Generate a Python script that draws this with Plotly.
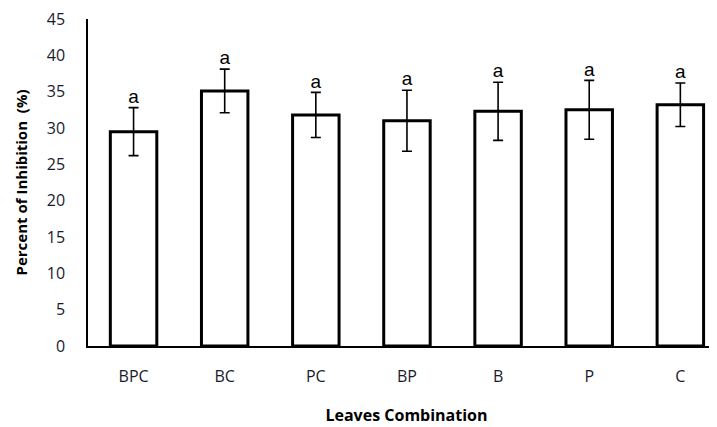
import plotly.graph_objects as go

categories = ["BPC", "BC", "PC", "BP", "B", "P", "C"]
values = [29.5, 35.1, 31.8, 31.0, 32.3, 32.5, 33.2]
errors = [3.3, 3.0, 3.1, 4.2, 4.0, 4.05, 3.0]
letters = ["a", "a", "a", "a", "a", "a", "a"]

font_family = "Open Sans, Liberation Sans, sans-serif"

fig = go.Figure()
fig.add_trace(go.Bar(
    x=categories, y=values,
    marker=dict(color="white", line=dict(color="black", width=3)),
    error_y=dict(type="data", array=errors, visible=True, color="black", thickness=1.6, width=5),
    width=0.51,
    showlegend=False,
))
fig.add_trace(go.Scatter(
    x=categories, y=[v + e for v, e in zip(values, errors)],
    mode="text", text=letters, textposition="top center",
    textfont=dict(size=19, color="black", family="Liberation Sans, sans-serif"),
    showlegend=False,
))

# page has an 8px body margin; margins compensate for it
fig.update_layout(
    width=717, height=427,
    margin=dict(l=80, r=0, t=11, b=89),
    plot_bgcolor="white", paper_bgcolor="white",
    font=dict(family=font_family, color="#1a1a2e"),
    xaxis=dict(
        range=[-0.5, 6.49], showline=True, linecolor="black", linewidth=1.5,
        ticks="", tickfont=dict(size=16, color="#1a1a2e"),
        title=dict(text="<b>Leaves Combination</b>", font=dict(size=16, color="black"), standoff=24),
        showgrid=False, ticklabelstandoff=15, automargin=False,
    ),
    yaxis=dict(
        range=[0, 45], dtick=5, showline=True, linecolor="black", linewidth=1.5,
        ticks="", tickfont=dict(size=16, color="#1a1a2e"), showgrid=False, zeroline=False,
        title=dict(text="<b>Percent of Inhibition  (%)</b>", font=dict(size=15, color="black"), standoff=16),
        ticklabelstandoff=18, automargin=False, ticklabeloverflow="allow",
    ),
)

fig.write_html("out.html")
